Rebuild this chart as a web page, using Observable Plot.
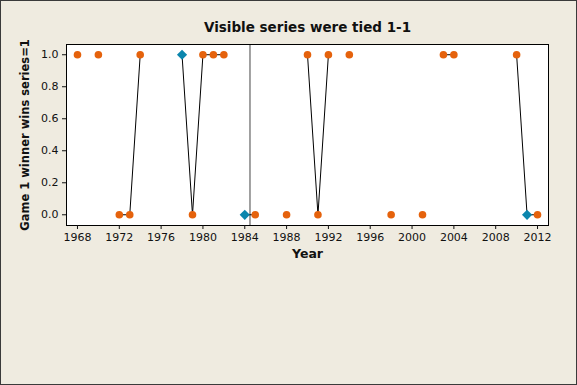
<!DOCTYPE html>
<html>
<head>
<meta charset="utf-8">
<script src="https://cdn.jsdelivr.net/npm/d3@7"></script>
<script src="https://cdn.jsdelivr.net/npm/@observablehq/plot@0.6"></script>
<style>
  html, body { margin: 0; padding: 0; background: #efebe0; }
  #wrap { position: relative; width: 577px; height: 385px; }
  #border { position: absolute; left: 0; top: 0; width: 575px; height: 383px; border: 1px solid #3a3a3a; pointer-events: none; }
</style>
</head>
<body>
<div id="wrap"><div id="border"></div></div>
<script>
const title = "Visible series were tied 1-1";
const xLabel = "Year";
const yLabel = "Game 1 winner wins series=1";
const years  = [1968,1970,1972,1973,1974,1978,1979,1980,1981,1982,1984,1985,1988,1990,1991,1992,1994,1998,2001,2003,2004,2010,2011,2012];
const values = [1,1,0,0,1,1,0,1,1,1,0,0,0,1,0,1,1,0,0,1,1,1,0,0];
const tiedYears = [1978,1984,2011];
const refLine = [1984.5];
const xTicks = [1968,1972,1976,1980,1984,1988,1992,1996,2000,2004,2008,2012];
const yTicks = [0,0.2,0.4,0.6,0.8,1.0];

const rows = years.map((y,i) => ({year: y, v: values[i], tied: tiedYears.includes(y)}));
// full run of years so that missing years break the line
const lineRows = d3.range(years[0], years[years.length-1] + 1).map(y => {
  const i = years.indexOf(y);
  return {year: y, v: i >= 0 ? values[i] : NaN};
});

const font = "DejaVu Sans, Verdana, sans-serif";
const chart = Plot.plot({
  width: 577, height: 385,
  marginLeft: 66, marginRight: 29, marginTop: 44, marginBottom: 160,
  style: {background: "transparent", fontFamily: font, fontSize: "11px", color: "#111"},
  x: {domain: [1966.95, 2013.05], ticks: xTicks, tickFormat: d => String(d)},
  y: {domain: [-0.067, 1.064], ticks: yTicks, tickFormat: d3.format(".1f")},
  marks: [
    Plot.frame({fill: "white"}),
    Plot.ruleX(refLine, {stroke: "#444", strokeWidth: 1}),
    Plot.line(lineRows, {x: "year", y: "v", stroke: "black", strokeWidth: 1}),
    Plot.dot(rows.filter(d => !d.tied), {x: "year", y: "v", r: 3.8, fill: "#e5620c", stroke: null}),
    Plot.dot(rows.filter(d => d.tied), {x: "year", y: "v", r: 4.6, symbol: "diamond2", fill: "#0b86ad", stroke: null}),
    Plot.frame({stroke: "black", strokeWidth: 1}),
    Plot.axisX({ticks: xTicks, tickSize: 4, tickPadding: 4, label: null, fontSize: 11, tickFormat: d => String(d)}),
    Plot.axisY({ticks: yTicks, tickSize: 4, tickPadding: 4, label: null, fontSize: 11, tickFormat: d3.format(".1f")}),
    Plot.text([title], {frameAnchor: "top", dy: -16.5, lineAnchor: "middle", fontWeight: "bold", fontSize: 13.5}),
    Plot.text([xLabel], {frameAnchor: "bottom", dy: 28, lineAnchor: "middle", fontWeight: "bold", fontSize: 12.5}),
    Plot.text([yLabel], {frameAnchor: "left", dx: -41, rotate: -90, textAnchor: "middle", lineAnchor: "middle", fontWeight: "bold", fontSize: 11.5})
  ]
});
document.getElementById("wrap").prepend(chart);
</script>
</body>
</html>
